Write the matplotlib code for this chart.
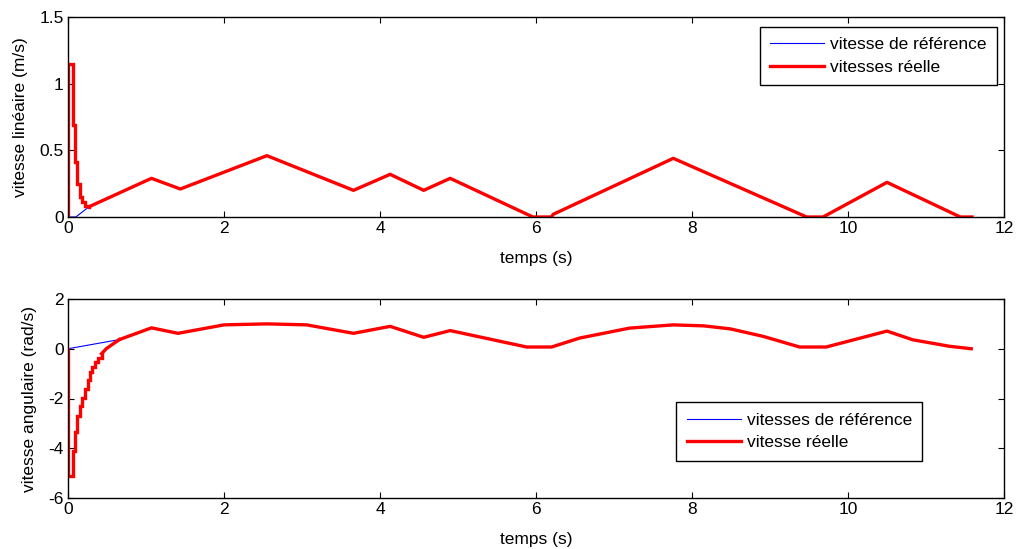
#!/usr/bin/env python
# -*- coding: utf-8 -*-

# Vitesses lineaire et angulaire : reference vs reelle (style MATLAB)

import matplotlib
matplotlib.use("Agg")
import matplotlib.pyplot as plt

plt.rcParams['font.family'] = ['Liberation Sans', 'DejaVu Sans']
plt.rcParams['axes.unicode_minus'] = False

# ---- vitesse lineaire (m/s) ----
# debut de la reponse reelle (en marches)
t_lin_reel_debut = [0, 0.005, 0.06, 0.09, 0.12, 0.15, 0.18, 0.22, 0.27]
v_lin_reel_debut = [0, 1.15, 0.69, 0.415, 0.25, 0.15, 0.115, 0.083, 0.077]
# debut de la reference
t_lin_ref_debut = [0, 0.10, 0.27]
v_lin_ref_debut = [0, 0, 0.077]
# partie commune (les deux courbes se superposent)
t_lin = [0.27, 1.07, 1.44, 2.55, 3.66, 4.13, 4.56, 4.90, 5.96, 6.20, 6.22,
         7.76, 9.47, 9.68, 10.50, 11.44, 11.59]
v_lin = [0.077, 0.29, 0.21, 0.46, 0.20, 0.32, 0.20, 0.29, 0.0, 0.0, 0.02,
         0.44, 0.0, 0.0, 0.26, 0.0, 0.0]

# ---- vitesse angulaire (rad/s) ----
t_ang_reel_debut = [0, 0.005, 0.06, 0.09, 0.12, 0.15, 0.18, 0.22, 0.25, 0.28,
                    0.31, 0.34, 0.38, 0.43]
w_ang_reel_debut = [0, -5.1, -4.1, -3.33, -2.7, -2.3, -1.96, -1.6, -1.27, -0.93,
                    -0.73, -0.53, -0.36, -0.2]
t_ang_reel_raccord = [0.43, 0.49, 0.58, 0.66]
w_ang_reel_raccord = [-0.2, 0.0, 0.2, 0.37]
t_ang_ref_debut = [0, 0.66]
w_ang_ref_debut = [0, 0.37]
t_ang = [0.66, 1.07, 1.41, 2.0, 2.55, 3.06, 3.66, 4.13, 4.56, 4.9, 5.88, 6.2,
         6.56, 7.2, 7.76, 8.15, 8.49, 8.91, 9.38, 9.72, 10.5, 10.83, 11.3, 11.58]
w_ang = [0.37, 0.84, 0.62, 0.96, 1.0, 0.96, 0.62, 0.9, 0.46, 0.73, 0.07, 0.07,
         0.43, 0.83, 0.96, 0.92, 0.8, 0.5, 0.07, 0.07, 0.71, 0.36, 0.1, 0.0]

fs = 12.5
lw_ref = 0.8
lw_reel = 2.4


def style_axes(ax):
    ax.tick_params(direction='in', top=True, right=True, length=4, width=0.8,
                   labelsize=fs, pad=3)
    for s in ax.spines.values():
        s.set_linewidth(1.0)
        s.set_color('black')
    ax.set_xlim(0, 12)
    ax.set_xticks([0, 2, 4, 6, 8, 10, 12])
    ax.set_xlabel("temps (s)", fontsize=fs, labelpad=11)


def style_legend(leg):
    leg.get_frame().set_linewidth(1.0)


leg_kw = dict(borderaxespad=0, fancybox=False, edgecolor='black',
              framealpha=1, fontsize=fs, handlelength=3.1,
              handletextpad=0.35, borderpad=0.6, labelspacing=0.42)

fig = plt.figure(figsize=(10.21, 5.49), dpi=100)

# -- haut --
ax1 = fig.add_axes([68/1021., 1 - 217/549., 936/1021., 200/549.])
ax1.plot(t_lin_ref_debut + t_lin[1:], v_lin_ref_debut + v_lin[1:], color='blue',
         lw=lw_ref, label="vitesse de r\u00e9f\u00e9rence")
ax1.plot(t_lin_reel_debut, v_lin_reel_debut, color='red', lw=lw_reel,
         drawstyle='steps-post', solid_joinstyle='miter')
ax1.plot(t_lin, v_lin, color='red', lw=lw_reel, label="vitesses r\u00e9elle")
ax1.set_ylim(0, 1.5)
ax1.set_yticks([0, 0.5, 1, 1.5])
ax1.set_yticklabels(["0", "0.5", "1", "1.5"])
ax1.set_ylabel("vitesse lin\u00e9aire (m/s)", fontsize=fs, labelpad=8)
style_axes(ax1)
style_legend(ax1.legend(loc='upper right', bbox_to_anchor=(0.9925, 0.9515),
                        **leg_kw))

# -- bas --
ax2 = fig.add_axes([68/1021., 1 - 498/549., 936/1021., 199/549.])
ax2.plot(t_ang_ref_debut + t_ang[1:], w_ang_ref_debut + w_ang[1:], color='blue',
         lw=lw_ref, label="vitesses de r\u00e9f\u00e9rence")
ax2.plot(t_ang_reel_debut, w_ang_reel_debut, color='red', lw=lw_reel,
         drawstyle='steps-post', solid_joinstyle='miter')
ax2.plot(t_ang_reel_raccord, w_ang_reel_raccord, color='red', lw=lw_reel)
ax2.plot(t_ang, w_ang, color='red', lw=lw_reel, label="vitesse r\u00e9elle")
ax2.set_ylim(-6, 2)
ax2.set_yticks([-6, -4, -2, 0, 2])
ax2.set_ylabel("vitesse angulaire (rad/s)", fontsize=fs, labelpad=8)
style_axes(ax2)
style_legend(ax2.legend(loc='upper left', bbox_to_anchor=(0.650, 0.481),
                        **leg_kw))

fig.savefig("out.png", dpi=100)
